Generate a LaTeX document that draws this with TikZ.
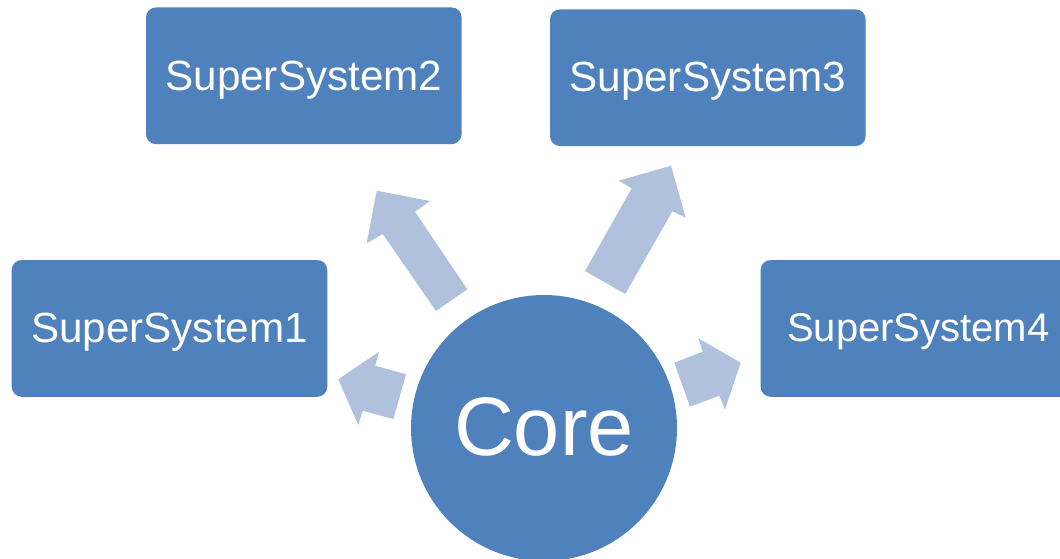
\documentclass[tikz,border=0pt]{standalone}
\usepackage{fontspec}
\setmainfont{Liberation Sans}
\definecolor{boxblue}{RGB}{79,129,189}
\definecolor{arrowblue}{RGB}{176,193,221}
\tikzset{
  sysbox/.style={rectangle, rounded corners=10pt, fill=boxblue, draw=none, text=white,
    minimum width=315.6pt, minimum height=136.7pt, inner sep=0pt,
    font=\fontsize{42.2pt}{42.2pt}\selectfont, text height=32pt, text depth=3.4pt},
  corenode/.style={circle, fill=boxblue, draw=none, text=white, minimum size=266pt, inner sep=0pt,
    font=\fontsize{83pt}{83pt}\selectfont, text height=58pt, text depth=4pt},
  blockarrow/.style={fill=arrowblue, draw=none}
}
\begin{document}
\begin{tikzpicture}[x=1pt,y=-1pt]
\useasboundingbox (0,0) rectangle (1060,559);
\begin{scope}
\clip (0,0) rectangle (1060,559);
% arrows
\fill[blockarrow] (436,311) -- (382.7,234) -- (366.7,243.3) -- (376.7,190.7) -- (430,201) -- (415,211.7) -- (467.3,289.3) -- cycle;
\fill[blockarrow] (585,271) -- (631.7,188.3) -- (618.7,180.7) -- (671,165.7) -- (685.7,217.7) -- (672.3,211.3) -- (625.3,294) -- cycle;
\fill[blockarrow] (406,374.3) -- (375.3,365.7) -- (379,351.7) -- (338.3,379.3) -- (358.3,425) -- (362.7,410.7) -- (393.3,419) -- cycle;
\fill[blockarrow] (674.3,362.7) -- (702.7,351.7) -- (698.3,338.3) -- (740.7,362.7) -- (725,409.3) -- (719.3,395.7) -- (690,406.7) -- cycle;
% boxes
\node[sysbox] (s1) at (169.5,328.4) {SuperSystem1};
\node[sysbox] (s2) at (303.8,75.8) {SuperSystem2};
\node[sysbox] (s3) at (707.8,77.7) {SuperSystem3};
\node[sysbox, font=\fontsize{40pt}{40pt}\selectfont, text height=30pt, text depth=3.4pt] (s4) at (918.4,328.4) {SuperSystem4};
% core
\node[corenode] (core) at (544,428) {Core};
\end{scope}
\end{tikzpicture}
\end{document}
